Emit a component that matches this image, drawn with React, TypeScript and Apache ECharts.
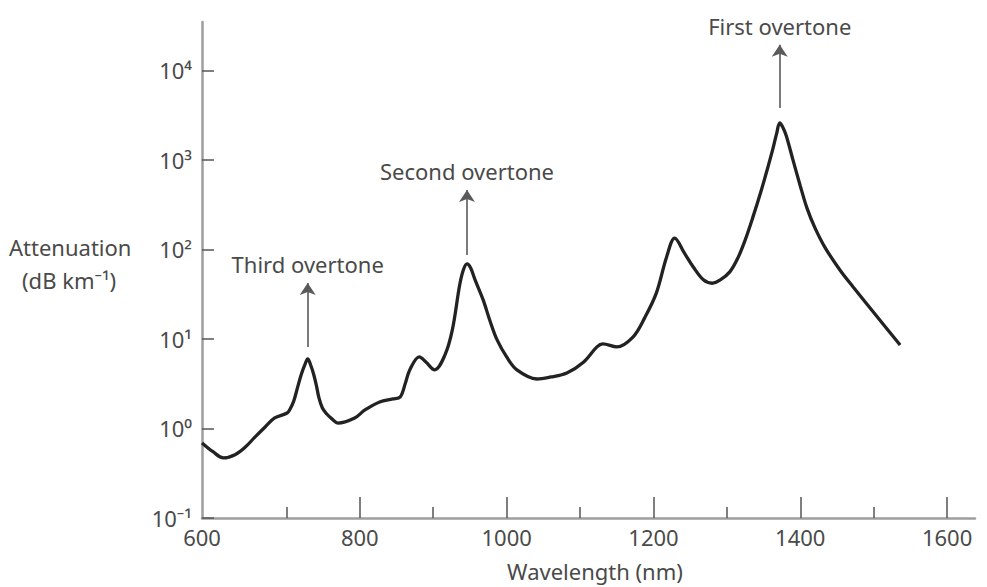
import React, { useEffect, useRef } from "react";
import * as echarts from "echarts";

// Wavelength (nm) and attenuation (dB/km)
const wavelength = [585, 600, 614, 630, 644, 657, 671, 684, 701, 705, 710, 715, 720, 725, 729, 733, 737, 741, 744, 749, 755, 762, 770, 793, 807, 827, 845, 855, 862, 868, 881, 890, 902, 916, 926, 936, 941, 946, 951, 957, 968, 977, 987, 1000, 1014, 1041, 1060, 1082, 1105, 1123, 1131, 1150, 1172, 1188, 1204, 1218, 1229, 1242, 1254, 1268, 1280, 1291, 1304, 1315, 1325, 1336, 1347, 1356, 1363, 1368, 1372, 1376, 1381, 1390, 1400, 1409, 1420, 1434, 1454, 1472, 1505, 1536];
const attenuation = [0.69, 0.55, 0.47, 0.51, 0.62, 0.8, 1.04, 1.31, 1.49, 1.65, 2.03, 2.84, 3.96, 5.12, 5.98, 5.12, 4.06, 2.98, 2.25, 1.69, 1.45, 1.28, 1.15, 1.31, 1.61, 1.98, 2.14, 2.25, 3.2, 4.51, 6.3, 5.53, 4.51, 6.63, 12.6, 40, 59, 68.9, 62, 45.6, 27.3, 16.2, 9.75, 6.3, 4.51, 3.57, 3.76, 4.17, 5.53, 8.15, 8.8, 8.15, 10.5, 17.2, 32.7, 83, 134, 91.4, 64, 45.7, 41.9, 45.6, 56.1, 80.4, 128, 237, 462, 836, 1361, 2003, 2590, 2336, 1854, 1000, 512, 291, 174, 104, 59, 38.1, 17.6, 8.57];

// Annotations: label, wavelength, arrow base, arrow tip
const annLabels = ["Third overtone", "Second overtone", "First overtone"];
const annX = [729, 946, 1372];
const annFrom = [8.15, 86.9, 3810];
const annTo = [42.3, 462, 19280];

// Axes
const X_MIN = 585;
const X_MAX = 1638;
const Y_MIN = 0.1;
const Y_MAX = 34700;
const xTickValues = [600, 800, 1000, 1200, 1400, 1600];
const xTickLabels = ["600", "800", "1000", "1200", "1400", "1600"];
const xMajorTicks = [800, 1000, 1200, 1400, 1600];
const xMinorTicks = [700, 900, 1100, 1300, 1500];
const yTickValues = [0.1, 1, 10, 100, 1000, 10000];
const yTickLabels = ["10⁻¹", "10⁰", "10¹", "10²", "10³", "10⁴"];

const FONT = "Noto Sans";
const TEXT = "#4a4a4a";

export default function App() {
  const ref = useRef<HTMLDivElement>(null);
  useEffect(() => {
    document.body.style.margin = "0";
    const chart = echarts.init(ref.current!, null, { renderer: "svg" });
    // first label sits at the axis origin as in the reference
    const xLabelPos = xTickValues.map((v, i) => (i === 0 ? X_MIN : v));
    const option = {
      animation: false,
      backgroundColor: "#ffffff",
      grid: { left: 202, right: 12, top: 22, bottom: 69, containLabel: false },
      xAxis: [
        {
          type: "value",
          min: X_MIN,
          max: X_MAX,
          name: "Wavelength (nm)",
          nameLocation: "middle",
          nameGap: 42,
          nameTextStyle: { color: TEXT, fontSize: 22, fontFamily: FONT, padding: [0, 0, 0, 13] },
          axisLine: { show: true, lineStyle: { color: "#9e9e9e", width: 2.5 } },
          axisTick: { show: true, inside: true, length: 21, customValues: xMajorTicks, lineStyle: { color: "#555", width: 1.5 } },
          axisLabel: {
            show: true,
            customValues: xLabelPos,
            margin: 8,
            color: TEXT,
            fontSize: 22,
            fontFamily: FONT,
            formatter: (v: number) => {
              const i = xLabelPos.indexOf(v);
              return i >= 0 ? xTickLabels[i] : "";
            },
          },
          splitLine: { show: false },
        },
        {
          type: "value",
          min: X_MIN,
          max: X_MAX,
          position: "bottom",
          axisLine: { show: false },
          axisTick: { show: true, inside: true, length: 11, customValues: xMinorTicks, lineStyle: { color: "#555", width: 1.5 } },
          axisLabel: { show: false },
          splitLine: { show: false },
        },
      ],
      yAxis: {
        type: "log",
        logBase: 10,
        min: Y_MIN,
        max: Y_MAX,
        axisLine: { show: true, lineStyle: { color: "#9e9e9e", width: 2.5 } },
        axisTick: { show: true, inside: true, length: 12, customValues: yTickValues, lineStyle: { color: "#555", width: 1.5 } },
        axisLabel: {
          show: true,
          customValues: yTickValues,
          margin: 10,
          color: TEXT,
          fontSize: 22,
          fontFamily: FONT,
          formatter: (v: number) => {
            const e = Math.round(Math.log10(v));
            const i = yTickValues.findIndex((t) => Math.round(Math.log10(t)) === e);
            return i >= 0 && Math.abs(Math.log10(v) - e) < 1e-6 ? yTickLabels[i] : "";
          },
        },
        splitLine: { show: false },
        minorTick: { show: false },
      },
      graphic: [
        { type: "text", left: 9, top: 236, style: { text: "Attenuation", fill: TEXT, font: `22px '${FONT}'` } },
        { type: "text", left: 22, top: 269, style: { text: "(dB km⁻¹)", fill: TEXT, font: `22px '${FONT}'` } },
      ],
      series: [
        {
          type: "line",
          xAxisIndex: 0,
          data: wavelength.map((w, i) => [w, attenuation[i]]),
          showSymbol: false,
          smooth: 0.35,
          lineStyle: { color: "#222", width: 3.3 },
          itemStyle: { color: "#222" },
          markLine: {
            silent: true,
            symbol: ["none", "arrow"],
            symbolSize: 12,
            lineStyle: { color: "#5a5a5a", width: 1.6, type: "solid" },
            label: { show: true, position: "end", distance: 8, color: TEXT, fontSize: 22, fontFamily: FONT },
            data: annLabels.map((lab, i) => [
              { coord: [annX[i], annFrom[i]], name: lab, label: { formatter: lab } },
              { coord: [annX[i], annTo[i]] },
            ]),
          },
        },
      ],
    };
    chart.setOption(option as any);
    return () => chart.dispose();
  }, []);
  return <div ref={ref} style={{ width: 987, height: 587 }} />;
}
